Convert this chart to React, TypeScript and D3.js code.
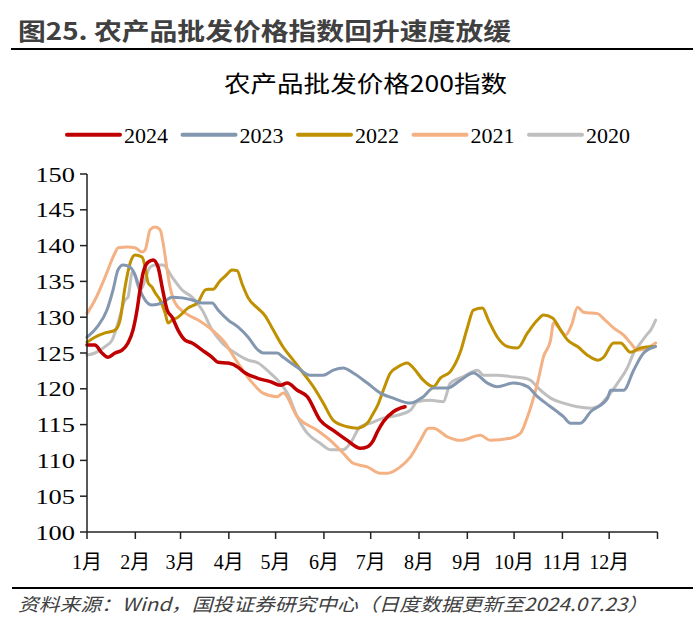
import React from "react";
import * as d3 from "d3";

// ---- data (day-of-year in a leap year, index value) ----
const monthLabels = ["1月", "2月", "3月", "4月", "5月", "6月", "7月", "8月", "9月", "10月", "11月", "12月"];
const monthStarts = [0, 31, 60, 91, 121, 152, 182, 213, 244, 274, 305, 335, 366];
const yTicks = [100, 105, 110, 115, 120, 125, 130, 135, 140, 145, 150];
const seriesNames = ["2024", "2023", "2022", "2021", "2020"];

const s2024: [number, number][] = [
  [0, 126.1], [5, 126.1], [9.6, 125], [13.5, 124.4], [18, 125], [22.5, 125.4], [26.3, 126.4], [29.5, 128.2],
  [32.1, 131], [34, 133.8], [36, 136.2], [39.2, 137.7], [42.4, 138], [45.6, 137], [48.2, 134.2], [51.4, 131],
  [54.6, 130], [58.4, 128.2], [62.9, 126.8], [67.4, 126.4], [73.9, 125.4], [80.3, 124.4], [84.1, 123.7],
  [90.6, 123.6], [97, 123], [100.2, 122.4], [109.2, 121.5], [117.5, 121], [124, 120.5], [128.5, 120.8],
  [134.9, 119.8], [141.3, 118.9], [149.6, 115.6], [158, 114.2], [167, 112.8], [175.3, 111.7], [179.8, 111.9],
  [183.7, 112.8], [186.3, 114], [190.1, 115.4], [196.5, 116.8], [201, 117.3], [204, 117.5],
];

const s2023: [number, number][] = [
  [0, 127.2], [6.4, 128.6], [12.8, 131], [16.7, 133.8], [19.9, 136.6], [23.1, 137.3], [27.6, 137], [31, 135.8],
  [34, 133.8], [37.3, 132.4], [41.7, 131.7], [48.2, 132], [54.6, 132.8], [61, 132.7], [67.4, 132.4], [73.9, 132],
  [80.3, 132], [84.1, 131], [90.6, 129.6], [97, 128.6], [103.4, 127.2], [109.8, 125.4], [113, 125], [122, 125],
  [125.9, 124.4], [134.9, 123], [143.2, 121.9], [151.6, 121.9], [158, 122.6], [164.4, 122.9], [170.8, 122.2],
  [179.8, 120.8], [188.2, 119.4], [196.5, 118.7], [207.5, 118], [215.8, 118.9], [222.2, 120.1], [231.2, 120.1],
  [239.6, 121.2], [247.9, 122.2], [256.9, 120.8], [263.3, 120.3], [273.6, 120.8], [282.6, 120.3], [289, 118.9],
  [297.4, 117.5], [305.7, 116.1], [310.2, 115.2], [316.6, 115.2], [323.1, 116.8], [334, 118.7], [335.9, 119.8],
  [344.3, 119.8], [350.7, 122.6], [357.1, 125], [364.8, 125.9],
];

const s2022: [number, number][] = [
  [0, 126.5], [5, 127.2], [11.6, 127.8], [18, 128.2], [21.2, 129.6], [24.4, 134.2], [27.6, 137.5], [30.8, 138.7],
  [35.3, 138.4], [37.3, 137], [39.2, 134.8], [41.7, 134.2], [43.7, 133.4], [46.9, 132.4], [50.1, 130.6],
  [52, 129.2], [54.6, 129.6], [58.4, 130], [64.9, 131.3], [71.3, 132.1], [75.8, 133.8], [77.7, 133.9],
  [80.9, 133.9], [85, 135], [89, 135.8], [93.1, 136.6], [96.3, 136.5], [99.6, 134.6], [103.4, 132.7],
  [109.8, 131.2], [114.3, 130.2], [119.5, 128.2], [125.9, 125.8], [132.3, 124], [138.7, 122.2], [145.2, 120.3],
  [151.6, 118], [158, 115.6], [167, 114.7], [173.4, 114.5], [179.8, 115.2], [183.7, 116.6], [186.3, 117.6],
  [190.1, 119.8], [194.6, 122.2], [199.1, 123], [205.5, 123.6], [209.4, 122.9], [215.8, 121.2], [222.2, 120.3],
  [226.7, 121.5], [233.1, 122.4], [239.6, 125.2], [244.1, 128.6], [247.9, 131], [253.7, 131.3], [257.5, 129.6],
  [263.3, 127.2], [269.7, 125.9], [276.2, 125.7], [282.6, 127.8], [289, 129.6], [292.9, 130.3], [298.7, 129.9],
  [303.8, 128.2], [308.3, 126.8], [314.7, 125.9], [321.1, 124.7], [327.6, 124], [331.4, 124.4], [337.8, 126.4],
  [342.3, 126.4], [348.7, 125.1], [355.2, 125.7], [363.5, 125.9],
];

const s2021: [number, number][] = [
  [0, 130.5], [5.1, 132.4], [11.6, 135.6], [18, 139], [19.9, 139.7], [26.3, 139.8], [30.8, 139.7], [35.3, 139.1],
  [37.3, 139.4], [40.5, 142.2], [43.7, 142.6], [46.9, 142.2], [48.8, 140.4], [51.4, 136.6], [53.3, 134.2],
  [56.5, 132], [62.9, 130.6], [71.3, 129.6], [80.3, 128.2], [88.6, 126.4], [95, 124.2], [104.7, 121.2],
  [113, 119.4], [122, 118.9], [125.9, 119.4], [134.9, 116.1], [147.7, 114.2], [156.1, 112.8], [164.4, 111],
  [170.8, 109.6], [179.8, 109.1], [188.2, 108.2], [192.7, 108.2], [201, 109.1], [207.5, 110.5], [213.9, 112.8],
  [219, 114.5], [222.2, 114.5], [231.2, 113.3], [239.6, 112.8], [252.4, 113.5], [258.8, 112.8], [271.7, 113.1],
  [278.1, 113.8], [282.6, 116.1], [289, 120.8], [292.9, 124.5], [297.4, 126.8], [299.3, 129.2], [303, 128.5],
  [307, 127.5], [311, 129], [314.7, 131.4], [318.6, 130.7], [327.6, 130.5], [331.4, 129.8], [337.8, 128.5],
  [344.3, 127.5], [348.7, 126.4], [353.2, 125.4], [359.7, 125.7], [364.8, 126.4],
];

const s2020: [number, number][] = [
  [0, 124.7], [5.1, 125], [11.6, 125.9], [16.1, 126.8], [19.9, 129.2], [24.4, 132.4], [26.3, 132.8],
  [28.9, 136.2], [29.5, 136.3], [34, 133.8], [40.5, 137], [43.7, 137.3], [48.8, 137.3], [54.6, 135.6],
  [61, 133.8], [67.4, 132.8], [73.9, 131], [80.3, 128.2], [86.7, 126.4], [95.1, 125], [103.4, 124],
  [109.8, 123.6], [117.5, 122.2], [124, 120.8], [128.5, 119.4], [134.9, 116.1], [141.3, 113.8], [149.6, 112.4],
  [156.1, 111.5], [164.4, 111.5], [168.9, 112.4], [175.3, 114.7], [181.8, 115.2], [190.1, 115.9], [199.1, 116.3],
  [207.5, 117], [211.9, 118.2], [220.3, 118.4], [228.6, 118.2], [233.1, 120.8], [241.5, 121.7], [250.5, 122.6],
  [254.3, 121.9], [263.3, 121.9], [271.7, 121.7], [280, 121.5], [284.5, 121.2], [290.9, 119.8], [297.4, 118.7],
  [305.7, 118], [314.7, 117.5], [323.1, 117.3], [327.6, 117.5], [334, 118.9], [340.4, 120.8], [346.8, 123],
  [350.7, 125], [355.2, 126.4], [359.7, 127.7], [361.6, 128.2], [364.8, 129.6],
];

const seriesData = [s2024, s2023, s2022, s2021, s2020];
const colors = ["#C00000", "#8497B0", "#BF9000", "#F4B183", "#BFBFBF"];
const widths = [3.5, 3, 3, 3, 3];

const SERIF = "'Liberation Serif', 'Times New Roman', 'Noto Sans CJK SC', serif";
const CJK = "'Noto Sans CJK SC', 'Noto Sans', sans-serif";

export default function App() {
  const W = 700;
  const H = 632;
  const x = d3.scaleLinear().domain([0, 366]).range([87, 657.5]);
  const y = d3.scaleLinear().domain([100, 150]).range([532, 174]);
  const line = d3
    .line<[number, number]>()
    .x((d) => x(d[0]))
    .y((d) => y(d[1]))
    .curve(d3.curveMonotoneX);

  const drawOrder = [4, 3, 2, 1, 0];

  return (
    <svg
      width={W}
      height={H}
      viewBox={`0 0 ${W} ${H}`}
      style={{ position: "absolute", left: 0, top: 0, background: "#fff" }}
    >
      <rect x={0} y={0} width={W} height={H} fill="#fff" />
      {/* header */}
      <text
        x={18}
        y={40}
        fontFamily={CJK}
        fontSize={24}
        fontWeight="bold"
        fill="#404040"
        textLength={493}
        lengthAdjust="spacingAndGlyphs"
      >
        图25. 农产品批发价格指数回升速度放缓
      </text>
      <line x1={11} x2={693} y1={49} y2={49} stroke="#000" strokeWidth={2} />
      <text
        x={224}
        y={92}
        fontFamily={CJK}
        fontSize={23}
        fill="#000"
        textLength={283}
        lengthAdjust="spacingAndGlyphs"
      >
        农产品批发价格200指数
      </text>

      {/* legend */}
      {seriesNames.map((n, i) => {
        const lx = 67 + i * 115.5;
        return (
          <g key={n}>
            <line x1={lx} x2={lx + 53} y1={134.7} y2={134.7} stroke={colors[i]} strokeWidth={4} strokeLinecap="round" />
            <text x={lx + 57} y={142.5} fontFamily={SERIF} fontSize={22} fill="#000">
              {n}
            </text>
          </g>
        );
      })}

      {/* series */}
      {drawOrder.map((i) => (
        <path
          key={seriesNames[i]}
          d={line(seriesData[i]) || ""}
          fill="none"
          stroke={colors[i]}
          strokeWidth={widths[i]}
          strokeLinejoin="round"
          strokeLinecap="round"
        />
      ))}

      {/* y axis */}
      <line x1={87} x2={87} y1={y(150)} y2={y(100)} stroke="#222" strokeWidth={1.5} />
      {yTicks.map((t) => (
        <g key={t}>
          <line x1={80} x2={87} y1={y(t)} y2={y(t)} stroke="#222" strokeWidth={1.5} />
          <text
            x={75}
            y={y(t)}
            dy="0.35em"
            textAnchor="end"
            fontFamily={SERIF}
            fontSize={22}
            fill="#000"
            transform={`translate(75 0) scale(1.2 1) translate(-75 0)`}
          >
            {t}
          </text>
        </g>
      ))}

      {/* x axis */}
      <line x1={x(0)} x2={x(366)} y1={532} y2={532} stroke="#222" strokeWidth={1.5} />
      {monthStarts.map((d, i) => (
        <line key={i} x1={x(d)} x2={x(d)} y1={532} y2={539} stroke="#222" strokeWidth={1.5} />
      ))}
      {monthLabels.map((m, i) => (
        <text key={m} x={x(monthStarts[i])} y={569} textAnchor="middle" fontFamily={SERIF} fontSize={20} fill="#000">
          {m}
        </text>
      ))}

      {/* footer */}
      <line x1={12} x2={693} y1={588} y2={588} stroke="#000" strokeWidth={2} />
      <text
        x={18}
        y={611}
        fontFamily={CJK}
        fontSize={18}
        fontStyle="italic"
        fill="#404040"
        textLength={630}
        lengthAdjust="spacingAndGlyphs"
      >
        资料来源：Wind，国投证券研究中心（日度数据更新至2024.07.23）
      </text>
    </svg>
  );
}
